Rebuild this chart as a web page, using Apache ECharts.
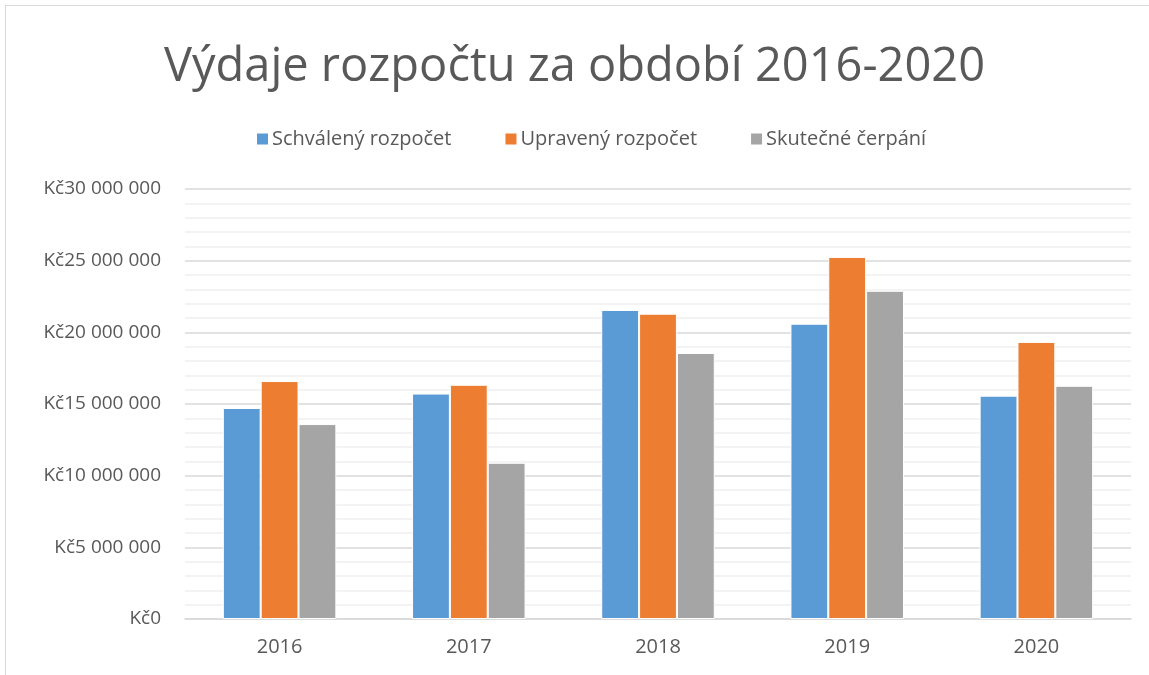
<!DOCTYPE html>
<html>
<head>
<meta charset="utf-8">
<script src="https://cdn.jsdelivr.net/npm/echarts@6/dist/echarts.min.js"></script>
<style>
  html, body { margin: 0; padding: 0; background: #fff; }
  #chart { width: 1149px; height: 675px; }
  #frame { position: absolute; left: 5px; top: 5px; width: 1160px; height: 700px; border: 1px solid #d9d9d9; box-sizing: border-box; pointer-events: none; }
</style>
</head>
<body>
<div id="chart"></div>
<div id="frame"></div>
<script>
// data
const years = ['2016', '2017', '2018', '2019', '2020'];
const schvaleny = [14720000, 15730000, 21560000, 20600000, 15580000];
const upraveny = [16600000, 16340000, 21300000, 25260000, 19330000];
const skutecne = [13600000, 10900000, 18560000, 22900000, 16270000];
const seriesNames = ['Schválený rozpočet', 'Upravený rozpočet', 'Skutečné čerpání'];

const font = '"Open Sans", "Noto Sans", sans-serif';

function kc(v) {
  // Kč30 000 000
  return 'Kč' + String(v).replace(/\B(?=(\d{3})+(?!\d))/g, ' ');
}

const myChart = echarts.init(document.getElementById('chart'));
const option = {
  color: ['#5b9bd5', '#ed7d31', '#a5a5a5'],
  textStyle: { fontFamily: font },
  title: {
    text: 'Výdaje rozpočtu za období 2016-2020',
    left: 'center',
    top: 39,
    textStyle: { fontFamily: font, fontSize: 47, fontWeight: 'normal', color: '#595959' }
  },
  legend: {
    top: 124,
    left: 250,
    itemWidth: 13,
    itemHeight: 13,
    itemGap: 52,
    icon: 'rect',
    textStyle: { fontFamily: font, fontSize: 20, color: '#595959', padding: [0, 0, 0, -2] },
    data: seriesNames
  },
  grid: { left: 185, right: 18, top: 189, bottom: 56 },
  xAxis: {
    type: 'category',
    data: years,
    axisLine: { lineStyle: { color: '#d9d9d9', width: 1.5 } },
    axisTick: { show: false },
    axisLabel: { color: '#595959', fontSize: 20, margin: 18, fontFamily: font }
  },
  yAxis: {
    type: 'value',
    min: 0,
    max: 30000000,
    interval: 5000000,
    axisLine: { show: false },
    axisTick: { show: false },
    axisLabel: { color: '#595959', fontSize: 19, margin: 24, formatter: kc, fontFamily: font },
    splitLine: { lineStyle: { color: '#d9d9d9', width: 1.5 } },
    minorTick: { show: false, splitNumber: 5 },
    minorSplitLine: { show: true, lineStyle: { color: '#f0f0f0', width: 1.5 } }
  },
  series: [
    { name: seriesNames[0], type: 'bar', data: schvaleny, barGap: '0%', barCategoryGap: '40%',
      itemStyle: { borderColor: '#ffffff', borderWidth: 1 } },
    { name: seriesNames[1], type: 'bar', data: upraveny, barGap: '0%', barCategoryGap: '40%',
      itemStyle: { borderColor: '#ffffff', borderWidth: 1 } },
    { name: seriesNames[2], type: 'bar', data: skutecne, barGap: '0%', barCategoryGap: '40%',
      itemStyle: { borderColor: '#ffffff', borderWidth: 1 } }
  ]
};
option && myChart.setOption(option);
</script>
</body>
</html>
